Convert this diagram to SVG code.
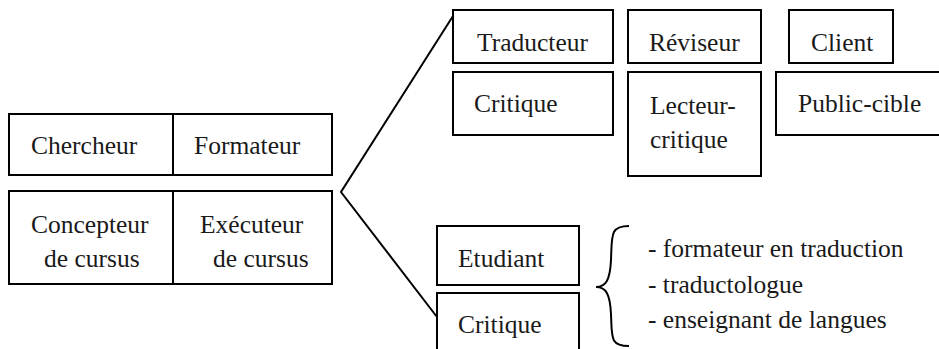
<svg xmlns="http://www.w3.org/2000/svg" width="939" height="349" viewBox="0 0 939 349">
<style>
.box{fill:#fff;stroke:#000;stroke-width:2}
.ln{fill:none;stroke:#000;stroke-width:2}
</style>
<rect width="939" height="349" fill="#fff"/>
<g id="connectors">
<polyline class="ln" points="453,16 341,192 437,317"/>
<path class="ln" d="M629,226 C610,226 612,235 611,260 C610,280 606,287 596,287 C606,287 610,294 611,314 C612,338 610,346 629,346"/>
</g>
<g font-family="Liberation Serif, Times New Roman, DejaVu Serif, serif" font-size="25.5" fill="#1a1a1a">
<g id="chercheur"><rect class="box" x="9" y="114" width="164" height="61"/><text x="31" y="154">Chercheur</text></g>
<g id="formateur"><rect class="box" x="173" y="114" width="159" height="61"/><text x="194" y="154">Formateur</text></g>
<g id="concepteur"><rect class="box" x="9" y="191" width="164" height="93"/><text x="31" y="233">Concepteur</text><text x="44" y="267">de cursus</text></g>
<g id="executeur"><rect class="box" x="173" y="191" width="159" height="93"/><text x="200" y="233">Exécuteur</text><text x="213" y="267">de cursus</text></g>
<g id="traducteur"><rect class="box" x="453" y="10" width="160" height="53"/><text x="477" y="51">Traducteur</text></g>
<g id="reviseur"><rect class="box" x="628" y="10" width="133" height="53"/><text x="649" y="51">Réviseur</text></g>
<g id="client"><rect class="box" x="789" y="10" width="104" height="53"/><text x="811" y="51">Client</text></g>
<g id="critique1"><rect class="box" x="453" y="72" width="160" height="63"/><text x="474" y="112">Critique</text></g>
<g id="lecteur"><rect class="box" x="628" y="72" width="133" height="104"/><text x="650" y="114">Lecteur-</text><text x="650" y="148">critique</text></g>
<g id="public"><rect class="box" x="776" y="72" width="180" height="63"/><text x="798" y="112">Public-cible</text></g>
<g id="etudiant"><rect class="box" x="437" y="226" width="142" height="59"/><text x="458" y="267">Etudiant</text></g>
<g id="critique2"><rect class="box" x="437" y="293" width="142" height="80"/><text x="458" y="333">Critique</text></g>
<g id="liste">
<text x="648" y="257">- formateur en traduction</text>
<text x="648" y="293">- traductologue</text>
<text x="648" y="328">- enseignant de langues</text>
</g>
</g>
</svg>
